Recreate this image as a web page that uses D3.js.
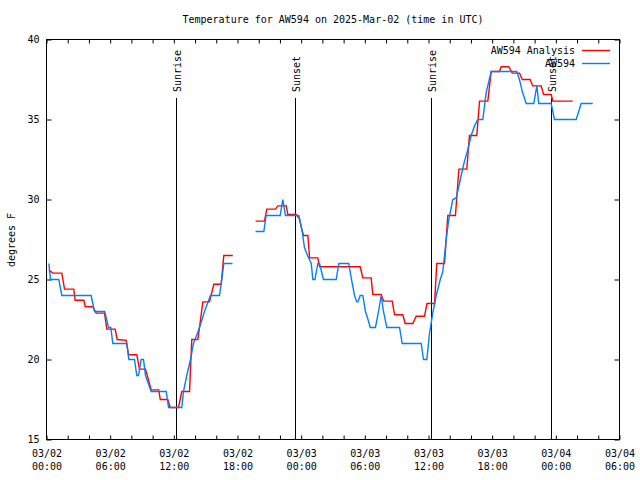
<!DOCTYPE html>
<html>
<head>
<meta charset="utf-8">
<script src="https://cdn.jsdelivr.net/npm/d3@7"></script>
<style>
  html, body { margin: 0; padding: 0; background: #fff; }
  svg { display: block; }
  text { font-family: "DejaVu Sans Mono", "Liberation Mono", monospace; font-size: 10px; fill: #000; }
</style>
</head>
<body>
<svg id="chart" width="640" height="480"></svg>
<script>
// ---- Data (hours since 2025-03-02 00:00 UTC) ----
const startTime = Date.UTC(2025, 2, 2, 0, 0);
const yTicks = [15, 20, 25, 30, 35, 40];
const seriesNames = ["AW594 Analysis", "AW594"];
const seriesColors = ["#ff0000", "#0080ff"];

const anaHours = [0.22, 0.59, 1.44, 1.70, 2.57, 2.70, 3.52, 3.65, 4.36, 4.68, 5.47, 5.68, 6.47, 6.66, 7.51, 7.73,
  8.51, 8.76, 9.33, 9.87, 10.58, 10.72, 11.43, 11.66, 12.44, 12.75, 13.48, 13.69, 14.26, 14.42, 14.73, 15.36,
  15.77, 16.46, 16.71, 17.56,
  18.6,
  19.70, 20.54, 20.76, 21.58, 21.80, 22.59, 22.74, 23.53, 23.84, 24.00, 24.22, 24.63, 24.79, 25.57, 25.73,
  29.56, 29.81, 30.60, 30.75, 31.54, 31.76, 32.58, 32.80, 33.58, 33.80, 34.52, 34.84, 35.62, 35.86, 36.57,
  36.78, 37.51, 37.82, 38.54, 38.86, 39.61, 39.86, 40.55, 40.81, 41.59, 41.91, 42.69, 42.85, 43.57, 43.89,
  44.58, 44.83, 45.58, 45.83, 46.62, 46.84, 47.56, 47.72, 49.60];
const anaTemps = [25.6, 25.4, 25.4, 24.4, 24.4, 23.7, 23.7, 23.3, 23.3, 22.9, 22.9, 21.9, 21.9, 21.25, 21.2, 20.3,
  20.3, 19.4, 19.4, 18.1, 18.1, 17.5, 17.5, 17.0, 17.0, 18.0, 18.0, 21.25, 21.25, 22.0, 23.6, 23.6,
  24.7, 24.7, 26.5, 26.5,
  null,
  28.65, 28.65, 29.4, 29.4, 29.6, 29.6, 29.06, 29.06, 28.8, 28.3, 27.75, 27.75, 26.35, 26.35, 25.8,
  25.8, 25.1, 25.1, 24.06, 24.06, 23.65, 23.65, 22.8, 22.8, 22.25, 22.25, 22.7, 22.7, 23.5, 23.5,
  26.0, 26.0, 29.0, 29.0, 31.9, 31.9, 34.0, 34.0, 36.15, 36.15, 38.0, 38.0, 38.3, 38.3, 37.9,
  37.9, 37.5, 37.5, 37.1, 37.1, 36.56, 36.56, 36.15, 36.15];

const obsHours = [0.22, 0.38, 1.16, 1.44, 4.21, 4.52, 5.49, 5.84, 6.06, 6.25, 7.57, 7.76, 8.29, 8.51, 8.67, 8.92,
  9.14, 9.33, 9.86, 11.28, 11.50, 12.75, 12.91, 13.22, 13.57, 13.85, 14.14, 14.42, 14.89, 15.17, 15.45,
  16.30, 16.46, 16.71, 17.53,
  18.6,
  19.70, 20.48, 20.70, 22.02, 22.27, 22.52, 23.78, 24.10, 24.31, 24.60, 24.95, 25.10, 25.30, 25.57, 25.73,
  26.10, 27.30, 27.55, 28.49, 28.74, 29.03, 29.24, 29.35, 29.56, 29.81, 30.06, 30.30, 30.51, 31.00, 31.29,
  31.54, 31.76, 32.07, 33.27, 33.52, 35.31, 35.53, 35.84, 36.09, 36.40, 36.73, 37.11, 37.35, 37.51, 37.67,
  37.91, 38.14, 38.29, 38.61, 38.92, 39.08, 39.39, 39.70, 40.02, 40.34, 40.65, 41.12, 41.44, 41.91, 44.32,
  44.57, 44.86, 45.21, 45.92, 46.21, 46.39, 47.56, 47.87, 49.92, 50.39, 51.48];
const obsTemps = [26, 25, 25, 24, 24, 23, 23, 22, 22, 21, 21, 20, 20, 19, 19, 20,
  20, 19, 18, 18, 17, 17, 18, 19, 20, 21, 21.5, 22, 23, 23.5, 24,
  24, 24.7, 26, 26,
  null,
  28, 28, 29, 29, 30, 29, 29, 28, 27, 26.5, 26, 25, 25, 26, 26,
  25, 25, 26, 26, 25, 24, 23.6, 23.6, 24, 24, 23, 22.5, 22, 22, 23,
  24, 23, 22, 22, 21, 21, 20, 20, 21.6, 22.9, 24, 25, 25.5, 26.5, 27.5,
  28.75, 29.5, 30, 30.1, 31, 31.5, 32.4, 33.1, 34, 34.6, 35, 35, 36.7, 38, 38,
  37.5, 36.7, 36, 36, 37.1, 36, 36, 35, 35, 36, 36];

const sunLabels = ["Sunrise", "Sunset", "Sunrise", "Sunset"];
const sunHours = [12.20, 23.42, 36.23, 47.54];

// ---- Layout ----
const svg = d3.select("#chart");
const pLeft = 46.5, pRight = 619.5, pTop = 39.5, pBottom = 439.5;
const toDate = h => new Date(startTime + h * 3600000);

const x = d3.scaleUtc().domain([toDate(0), toDate(54)]).range([pLeft, pRight]);
const y = d3.scaleLinear().domain([15, 40]).range([pBottom, pTop]);

// Title
svg.append("text").attr("x", 333).attr("y", 20).attr("text-anchor", "middle")
  .attr("dominant-baseline", "middle")
  .text("Temperature for AW594 on 2025-Mar-02 (time in UTC)");

// Y label
svg.append("text").attr("transform", "translate(12,240) rotate(-90)")
  .attr("text-anchor", "middle").attr("dominant-baseline", "middle").text("degrees F");

// x ticks every 2h, bottom and top (inward)
const tick2h = d3.range(0, 54.01, 2).map(toDate);
const tick6h = d3.range(0, 54.01, 6).map(toDate);

const gxb = svg.append("g").attr("transform", `translate(0,${pBottom})`)
  .call(d3.axisBottom(x).tickValues(tick2h).tickSize(-4).tickFormat(""));
const gxt = svg.append("g").attr("transform", `translate(0,${pTop})`)
  .call(d3.axisTop(x).tickValues(tick2h).tickSize(-4).tickFormat(""));
[gxb, gxt].forEach(g => { g.select(".domain").remove(); g.selectAll("line").attr("stroke", "#000"); });

// X labels (two lines)
const gxl = svg.append("g").attr("transform", `translate(0,${pBottom})`)
  .call(d3.axisBottom(x).tickValues(tick6h).tickSize(0).tickFormat(""));
gxl.select(".domain").remove();
gxl.selectAll(".tick").each(function(d) {
  const t = d3.select(this).append("text").attr("text-anchor", "middle").attr("fill", "#000");
  t.append("tspan").attr("x", 0).attr("y", 17).text(d3.utcFormat("%m/%d")(d));
  t.append("tspan").attr("x", 0).attr("y", 30).text(d3.utcFormat("%H:%M")(d));
});

// Y axis left (labels) and right mirror ticks
const gyl = svg.append("g").attr("transform", `translate(${pLeft},0)`)
  .call(d3.axisLeft(y).tickValues(yTicks).tickSize(-5).tickPadding(7).tickFormat(d3.format("d")));
gyl.select(".domain").remove();
gyl.selectAll("line").attr("stroke", "#000");
const gyr = svg.append("g").attr("transform", `translate(${pRight},0)`)
  .call(d3.axisRight(y).tickValues(yTicks).tickSize(-5).tickFormat(""));
gyr.select(".domain").remove();
gyr.selectAll("line").attr("stroke", "#000");
svg.selectAll(".tick text").style("font-family", "DejaVu Sans Mono").style("font-size", "10px");

// Border
svg.append("rect").attr("x", pLeft).attr("y", pTop).attr("width", pRight - pLeft).attr("height", pBottom - pTop)
  .attr("fill", "none").attr("stroke", "#000").attr("stroke-width", 1);

// Sun lines
sunHours.forEach((h, i) => {
  const xp = Math.round(x(toDate(h))) + 0.5;
  svg.append("line").attr("x1", xp).attr("x2", xp).attr("y1", 98).attr("y2", pBottom)
    .attr("stroke", "#000").attr("stroke-width", 1);
  svg.append("text").attr("transform", `translate(${xp + 1},92) rotate(-90)`)
    .attr("text-anchor", "start").attr("dominant-baseline", "middle").text(sunLabels[i]);
});

// Series
const line = d3.line().defined(d => d[1] !== null)
  .x(d => x(toDate(d[0]))).y(d => y(d[1]));
const anaData = anaHours.map((h, i) => [h, anaTemps[i]]);
const obsData = obsHours.map((h, i) => [h, obsTemps[i]]);
svg.append("path").datum(anaData).attr("d", line).attr("fill", "none")
  .attr("stroke", seriesColors[0]).attr("stroke-width", 1.4);
svg.append("path").datum(obsData).attr("d", line).attr("fill", "none")
  .attr("stroke", seriesColors[1]).attr("stroke-width", 1.4);

// Legend
seriesNames.forEach((name, i) => {
  const ly = 50.5 + i * 13;
  svg.append("text").attr("x", 575).attr("y", ly).attr("text-anchor", "end")
    .attr("dominant-baseline", "middle").text(name);
  svg.append("line").attr("x1", 582).attr("x2", 610).attr("y1", ly).attr("y2", ly)
    .attr("stroke", seriesColors[i]).attr("stroke-width", 1.4);
});
</script>
</body>
</html>
